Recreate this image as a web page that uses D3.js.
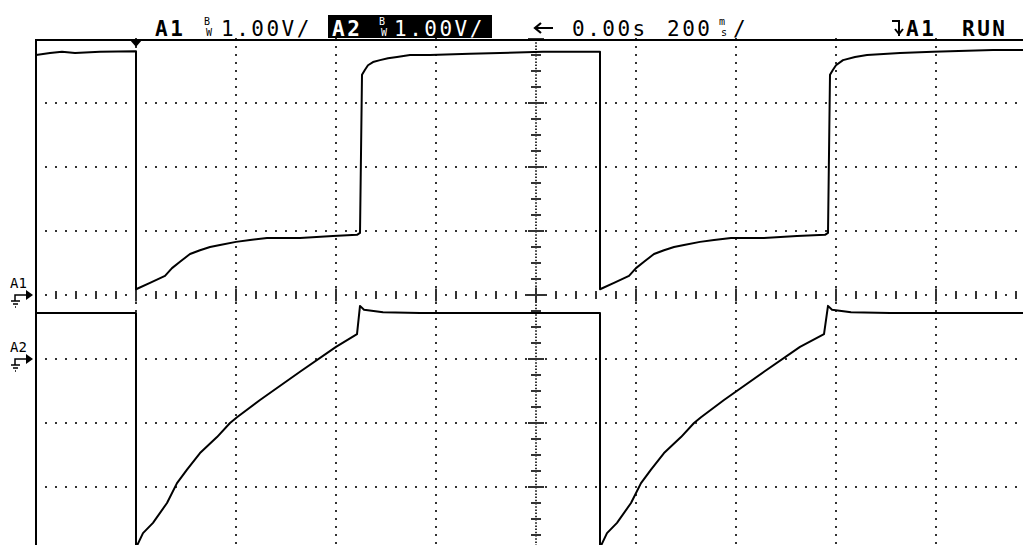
<!DOCTYPE html>
<html>
<head>
<meta charset="utf-8">
<script src="https://cdn.jsdelivr.net/npm/d3@7"></script>
<style>
body { margin: 0; background: #fff; }
svg { display: block; }
text { font-family: "DejaVu Sans Mono", monospace; }
</style>
</head>
<body>
<svg id="scope"></svg>
<script>
// Acquisition settings
const timePerDiv = 200;        // ms / div
const voltsPerDivA1 = 1.0;
const voltsPerDivA2 = 1.0;
const groundDivA1 = 0;         // ground marker position, in divisions from centre
const groundDivA2 = -1;
const triggerTime = -800;      // ms

// Channel A1 (time ms, volts)
const timeA1 = [-1000, -972, -948, -922, -872, -800, -800, -772, -742, -728, -712, -692, -672, -652, -632, -600,
  -572, -538, -472, -406, -358, -352, -348, -342, -336, -326, -312, -296, -278, -252, -212, -132, -72, 14, 128,
  128, 156, 186, 200, 216, 236, 256, 276, 296, 328, 356, 390, 456, 522, 578, 584, 588, 594, 600, 614, 638, 662,
  728, 794, 914, 1000];
const voltA1 = [3.75, 3.78, 3.80, 3.78, 3.80, 3.81, 0.09, 0.19, 0.30, 0.42, 0.52, 0.64, 0.70, 0.75, 0.78, 0.83,
  0.86, 0.89, 0.89, 0.92, 0.94, 0.97, 3.44, 3.52, 3.59, 3.64, 3.67, 3.70, 3.72, 3.75, 3.75, 3.77, 3.78, 3.80, 3.80,
  0.09, 0.19, 0.30, 0.42, 0.52, 0.64, 0.70, 0.75, 0.78, 0.83, 0.86, 0.89, 0.89, 0.92, 0.94, 0.97, 3.44, 3.52, 3.59,
  3.67, 3.72, 3.75, 3.78, 3.80, 3.83, 3.83];

// Channel A2 (time ms, volts)
const timeA2 = [-1000, -800, -800, -786, -766, -738, -718, -698, -672, -638, -612, -598, -552, -472, -400, -358,
  -352, -344, -306, -232, 128, 128, 142, 162, 190, 210, 230, 256, 290, 316, 330, 376, 456, 528, 576, 584, 592,
  630, 708, 1000];
const voltA2 = [0.72, 0.72, -2.95, -2.72, -2.56, -2.25, -1.94, -1.73, -1.47, -1.22, -1.00, -0.91, -0.64, -0.20,
  0.19, 0.39, 0.83, 0.77, 0.73, 0.72, 0.72, -2.95, -2.72, -2.56, -2.25, -1.94, -1.73, -1.47, -1.22, -1.00, -0.91,
  -0.64, -0.20, 0.19, 0.39, 0.83, 0.77, 0.73, 0.72, 0.72];

const width = 1023;
const height = 545;
const plotLeft = 36, plotTop = 39, divW = 100, divH = 64;

const xScale = d3.scaleLinear()
  .domain([-5 * timePerDiv, 5 * timePerDiv])
  .range([plotLeft, plotLeft + 10 * divW]);

const yScale = d3.scaleLinear()
  .domain([-4, 4])
  .range([plotTop + 8 * divH, plotTop]);

const svg = d3.select("#scope")
  .attr("width", width)
  .attr("height", height);

svg.append("rect").attr("width", width).attr("height", height).attr("fill", "#fff");

const dotColor = "#333";
const grid = svg.append("g");

function dot(x, y, w, h) {
  grid.append("rect")
    .attr("x", x - w / 2).attr("y", y - h / 2)
    .attr("width", w).attr("height", h)
    .attr("fill", dotColor);
}

// horizontal dotted lines
d3.range(-3, 4).filter(d => d !== 0).forEach(d => {
  d3.range(-980, 1000, 20).forEach(t => dot(xScale(t), yScale(d), 2, 2));
});

// vertical dotted lines
d3.range(-800, 1000, timePerDiv).filter(t => t !== 0).forEach(t => {
  d3.range(-4, 4.01, 0.125).forEach(d => dot(xScale(t), yScale(d), 2, 2));
});

// centre horizontal axis with ticks
d3.range(-980, 1000, 20).forEach(t => {
  if (t === 0) return;
  if (t % 200 === 0) dot(xScale(t), yScale(0), 2, 13);
  else if (t % 40 === 0) dot(xScale(t), yScale(0), 2, 8);
  else dot(xScale(t), yScale(0), 2, 2);
});

// centre vertical axis with ticks
grid.append("line")
  .attr("x1", xScale(0)).attr("x2", xScale(0))
  .attr("y1", yScale(4)).attr("y2", yScale(-4))
  .attr("stroke", dotColor).attr("stroke-width", 2)
  .attr("stroke-dasharray", "1.5,1.7");
d3.range(-4, 4.01, 0.25).forEach(d => {
  if (d === 0) return;
  if (Number.isInteger(d)) dot(xScale(0), yScale(d), 16, 2);
  else dot(xScale(0), yScale(d), 10, 2);
});
dot(xScale(0), yScale(0), 22, 2);
dot(xScale(0), yScale(0), 2, 15);

// frame
svg.append("path")
  .attr("d", `M${plotLeft},${plotTop + 8 * divH} V${plotTop + 1} H${plotLeft + 10 * divW}`)
  .attr("fill", "none").attr("stroke", "#000").attr("stroke-width", 2);

// traces
svg.append("clipPath").attr("id", "plot")
  .append("rect").attr("x", plotLeft).attr("y", plotTop).attr("width", 10 * divW).attr("height", 8 * divH);

const pointsA1 = timeA1.map((t, i) => [t, voltA1[i] / voltsPerDivA1 + groundDivA1]);
const pointsA2 = timeA2.map((t, i) => [t, voltA2[i] / voltsPerDivA2 + groundDivA2]);

const line = d3.line()
  .x(d => xScale(d[0]))
  .y(d => yScale(d[1]));

svg.selectAll("path.trace")
  .data([pointsA1, pointsA2])
  .join("path")
  .attr("class", "trace")
  .attr("clip-path", "url(#plot)")
  .attr("fill", "none")
  .attr("stroke", "#000")
  .attr("stroke-width", 2)
  .attr("stroke-linejoin", "round")
  .attr("d", line);

// trigger marker
const tx = xScale(triggerTime);
svg.append("path")
  .attr("d", `M${tx - 6},${plotTop + 1} L${tx + 6},${plotTop + 1} L${tx},${plotTop + 8} Z`)
  .attr("fill", "#000");

// channel ground markers
function groundMarker(label, yDiv) {
  const y = yScale(yDiv);
  const g = svg.append("g");
  g.append("text").attr("x", 10).attr("y", y - 7)
    .attr("font-size", 14).attr("fill", "#000").text(label);
  g.append("path")
    .attr("d", `M15,${y + 6} V${y} H27`)
    .attr("fill", "none").attr("stroke", "#000").attr("stroke-width", 1.5);
  g.append("path")
    .attr("d", `M26,${y - 5} L33,${y} L26,${y + 5} Z`).attr("fill", "#000");
  g.append("path")
    .attr("d", `M11,${y + 6} H20 M13,${y + 9} H18 M15,${y + 12} H16`)
    .attr("fill", "none").attr("stroke", "#000").attr("stroke-width", 1.3);
}
groundMarker("A1", groundDivA1);
groundMarker("A2", groundDivA2);

// header
const head = svg.append("g").attr("font-size", 21).attr("letter-spacing", 2.5);

// small stacked glyph pair (e.g. B over W, m over s)
function stacked(x, top, bottom, fill) {
  head.append("text").attr("x", x).attr("y", 24.5).attr("font-size", 10)
    .attr("letter-spacing", 0).attr("fill", fill).text(top);
  head.append("text").attr("x", x + 2).attr("y", 36).attr("font-size", 10)
    .attr("letter-spacing", 0).attr("fill", fill).text(bottom);
}

head.append("text").attr("x", 155).attr("y", 36).attr("font-weight", "bold").text("A1");
stacked(204, "B", "W", "#000");
head.append("text").attr("x", 221).attr("y", 36).text("1.00V/");

head.append("rect").attr("x", 328).attr("y", 15).attr("width", 164).attr("height", 23).attr("fill", "#000");
head.append("text").attr("x", 332).attr("y", 36).attr("font-weight", "bold").attr("fill", "#fff").text("A2");
stacked(379, "B", "W", "#fff");
head.append("text").attr("x", 394).attr("y", 36).attr("fill", "#fff").text("1.00V/");

// left arrow
head.append("path")
  .attr("d", "M536,28 H553 M541,23 L535,28 L541,33")
  .attr("fill", "none").attr("stroke", "#000").attr("stroke-width", 2.2);
head.append("text").attr("x", 572).attr("y", 36).text("0.00s");
head.append("text").attr("x", 667).attr("y", 36).text("200");
stacked(719, "m", "s", "#000");
head.append("text").attr("x", 733).attr("y", 36).text("/");

// trigger slope symbol
head.append("path")
  .attr("d", "M892,21 H899 V36 M895,29 L899,34 L903,29")
  .attr("fill", "none").attr("stroke", "#000").attr("stroke-width", 2);
head.append("text").attr("x", 906).attr("y", 36).attr("font-weight", "bold").text("A1");
head.append("text").attr("x", 962).attr("y", 36).attr("font-weight", "bold").text("RUN");
</script>
</body>
</html>
